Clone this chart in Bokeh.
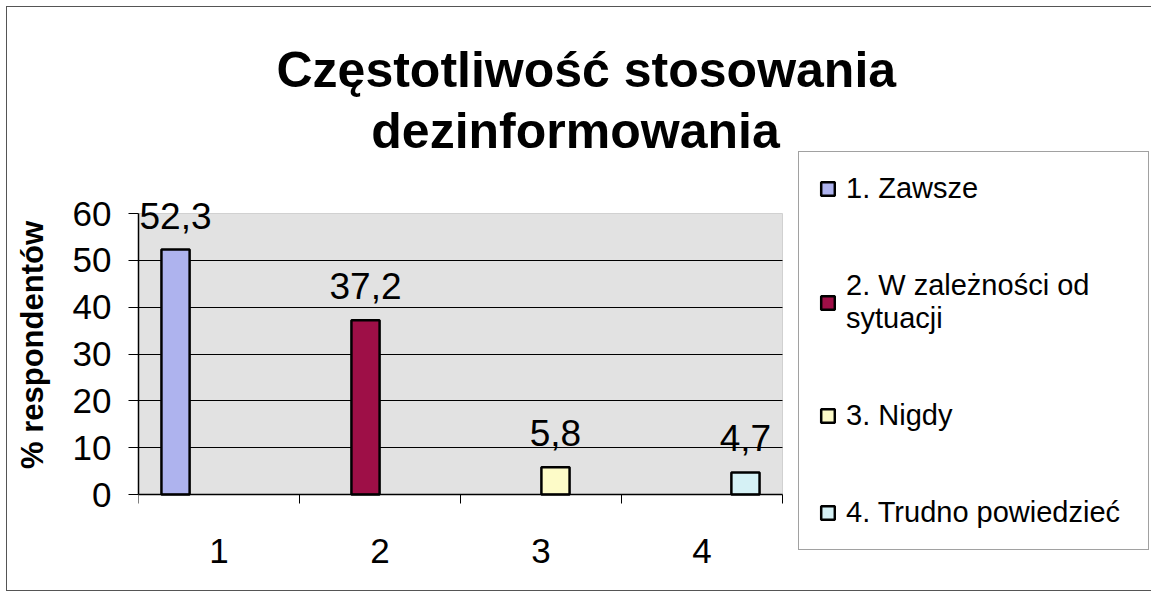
from bokeh.plotting import figure
from bokeh.models import (ColumnDataSource, Range1d, FixedTicker, Legend, LegendItem,
                          LabelSet, Label, BoxAnnotation, Title)
from bokeh.core.properties import value
from bokeh.transform import dodge
from bokeh.embed import file_html
from bokeh.resources import INLINE

# ---- data ----
title_line1 = "Częstotliwość stosowania"
title_line2 = "dezinformowania"
y_label = "% respondentów"
categories = [1, 2, 3, 4]
category_labels = ["1", "2", "3", "4"]
series_names = ["1. Zawsze", "2. W zależności od\nsytuacji", "3. Nigdy", "4. Trudno powiedzieć"]
values = [52.3, 37.2, 5.8, 4.7]
value_labels = ["52,3", "37,2", "5,8", "4,7"]
colors = ["#aeb3ee", "#9e0f47", "#fdfbc8", "#d5f1f5"]
y_ticks = [0, 10, 20, 30, 40, 50, 60]

FONT = "Liberation Sans"
W, H = 1145, 585

# layout: plot area spans categories 0.5..4.5 and 0..60; the frame is larger so
# that the legend and the second title line can sit inside it without clipping
PX_X = 161.0        # px per category
PX_Y = 4.68333      # px per percent
ZERO_Y = 487        # canvas row of y = 0
FRAME_L, FRAME_T, FRAME_B = 131, 100, 10
x_end = 0.5 + (W - FRAME_L) / PX_X
y_start = -(H - FRAME_B - ZERO_Y) / PX_Y
y_end = (ZERO_Y - FRAME_T) / PX_Y

p = figure(width=W, height=H, output_backend="svg", toolbar_location=None,
           x_range=Range1d(0.5, x_end), y_range=Range1d(y_start, y_end),
           min_border_left=FRAME_L, min_border_right=0,
           min_border_top=FRAME_T, min_border_bottom=FRAME_B,
           background_fill_color="white", border_fill_color="white",
           outline_line_color=None)
p.styles = {"border-left": "1px solid #555", "border-top": "1px solid #555",
            "border-bottom": "1px solid #555", "margin": "6px 0 0 6px"}

# title: first line as the plot title, second line centred below it
p.title = Title(text=title_line1, align="left", offset=138, standoff=20,
                text_font=FONT, text_font_size="50px", text_font_style="bold",
                text_color="black")
p.add_layout(Label(x=0.5 + 437 / PX_X, y=364 / PX_Y, text=title_line2,
                   text_align="center", text_baseline="middle",
                   text_font=FONT, text_font_size="50px", text_font_style="bold",
                   text_color="black"))

# grey plot area 0..60
p.add_layout(BoxAnnotation(left=categories[0] - 0.5, right=categories[-1] + 0.5,
                           bottom=y_ticks[0], top=y_ticks[-1],
                           fill_color="#e2e2e2", fill_alpha=1,
                           line_color="#8a8a8a", line_width=1, level="image"))

# bars: series i has its value in category i (Excel-style grouped bars)
bar_w = 0.175
step = 0.18
renderers = []
for i, (cat, val, col, lab) in enumerate(zip(categories, values, colors, value_labels)):
    src = ColumnDataSource(dict(x=[cat], top=[val], lab=[lab]))
    off = (i - 1.5) * step
    r = p.vbar(x=dodge("x", off, range=p.x_range), top="top", width=bar_w, bottom=0,
               source=src, fill_color=col, line_color="black", line_width=2.5)
    renderers.append(r)
    p.add_layout(LabelSet(x=dodge("x", off, range=p.x_range), y="top", text="lab",
                          source=src, y_offset=34, text_align="center",
                          text_baseline="middle", text_font=value(FONT),
                          text_font_size=value("37px"), text_color="black"))

# category labels under the axis
cat_src = ColumnDataSource(dict(x=categories, y=[0] * len(categories), t=category_labels))
p.add_layout(LabelSet(x="x", y="y", text="t", source=cat_src, y_offset=-56,
                      text_align="center", text_baseline="middle",
                      text_font=value(FONT), text_font_size=value("35px"),
                      text_color="black"))

# x axis at y = 0 (tick marks between categories)
xa = p.xaxis[0]
xa.fixed_location = 0
xa.bounds = (categories[0] - 0.5, categories[-1] + 0.5)
xa.ticker = FixedTicker(ticks=[], minor_ticks=[c - 0.5 for c in categories] + [categories[-1] + 0.5])
xa.major_tick_line_color = None
xa.minor_tick_out = 9
xa.minor_tick_in = 0
xa.minor_tick_line_color = "black"
xa.minor_tick_line_width = 1
xa.axis_line_color = "black"
xa.axis_line_width = 1.5
xa.major_label_standoff = 0

ya = p.yaxis[0]
ya.ticker = FixedTicker(ticks=y_ticks)
ya.bounds = (y_ticks[0], y_ticks[-1])
ya.axis_label = y_label
ya.axis_label_text_font = FONT
ya.axis_label_text_font_size = "31px"
ya.axis_label_text_font_style = "bold"
ya.axis_label_text_color = "black"
ya.axis_label_standoff = 20
ya.major_tick_out = 10
ya.major_tick_in = 0
ya.minor_tick_line_color = None
ya.axis_line_color = "black"
ya.axis_line_width = 1.5
ya.major_label_standoff = 17
ya.major_label_text_font = FONT
ya.major_label_text_font_size = "35px"
ya.major_label_text_color = "black"

p.xgrid.grid_line_color = None
p.ygrid.ticker = FixedTicker(ticks=y_ticks[1:-1])
p.ygrid.grid_line_color = "black"
p.ygrid.grid_line_width = 1
try:
    p.ygrid.cross_bounds = (categories[0] - 0.5, categories[-1] + 0.5)
except AttributeError:
    p.add_layout(BoxAnnotation(left=categories[-1] + 0.5, fill_color="white",
                               fill_alpha=1, line_color=None, level="underlay"))

legend = Legend(items=[LegendItem(label=n, renderers=[r]) for n, r in zip(series_names, renderers)],
                location=(660, 32), orientation="vertical",
                glyph_width=17, glyph_height=17, label_standoff=10,
                label_width=282, spacing=64, padding=20, margin=0,
                label_text_font=FONT, label_text_font_size="29px",
                label_text_line_height=1.0,
                label_text_color="black",
                border_line_color="#444444", border_line_width=1,
                background_fill_color="white", background_fill_alpha=1)
p.add_layout(legend)

open("out.html", "w").write(file_html(p, INLINE))
